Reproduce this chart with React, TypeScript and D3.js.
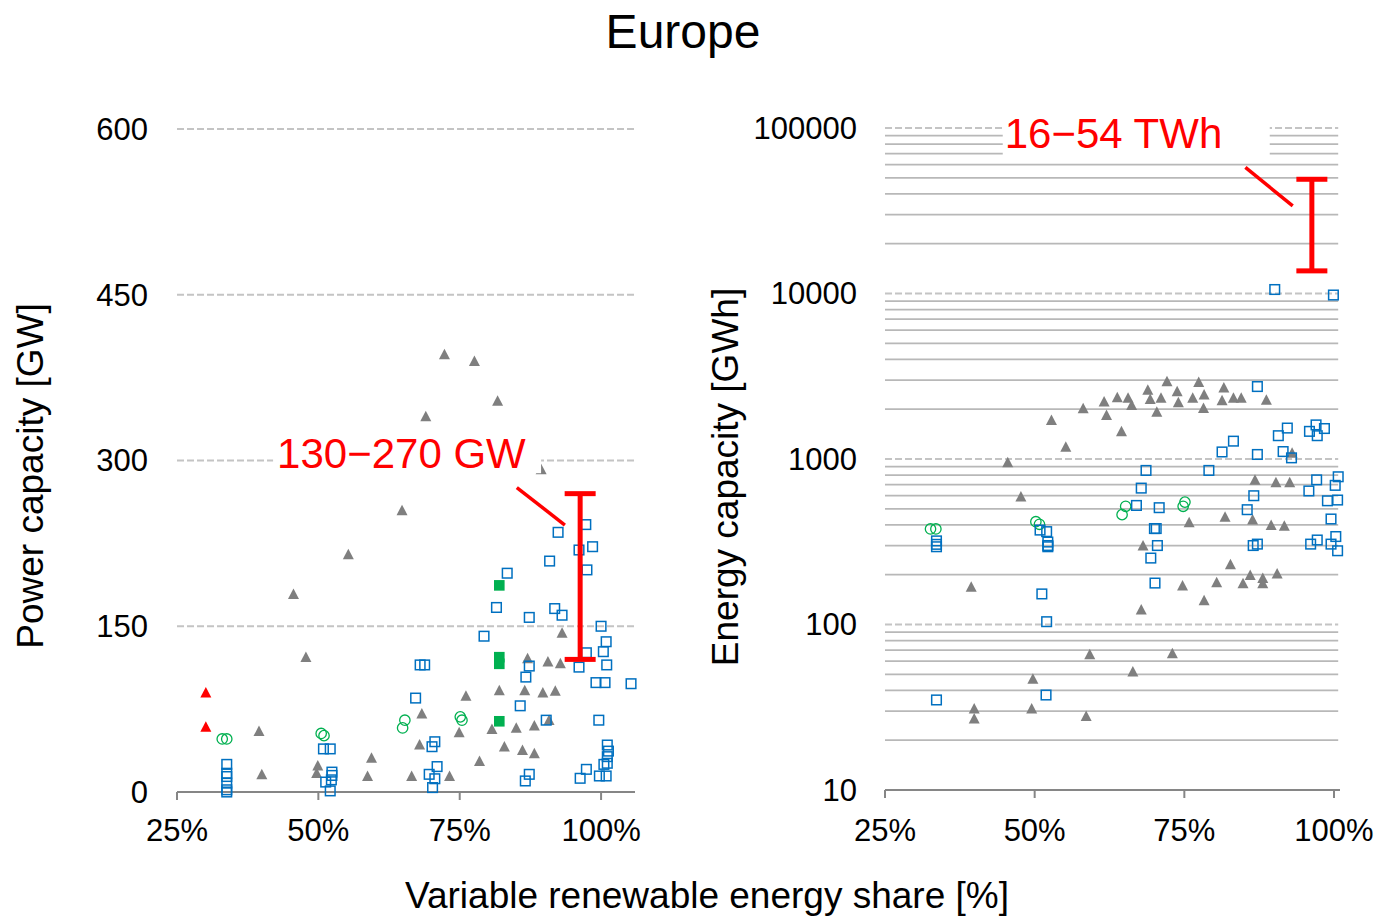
import * as d3 from "d3";

type Pt = [number, number];

const shareTicks = [25, 50, 75, 100];
const powerTicks = [0, 150, 300, 450, 600];
const energyTicks = [10, 100, 1000, 10000, 100000];

// left panel: VRE share [%], power capacity [GW]
const powerTriangles: Pt[] = [
  [64.8, 255], [55.3, 215], [45.6, 179], [47.8, 122], [39.5, 55], [40.0, 16], [49.9, 24], [49.7, 17],
  [59.4, 31], [58.7, 14.5], [66.5, 14.5], [73.2, 14.5], [72.3, 396], [77.6, 390], [81.7, 354], [69.0, 340],
  [89.4, 292], [93.1, 144], [87.0, 121], [90.6, 118], [92.8, 116.5], [82.0, 92], [86.5, 92], [89.7, 90],
  [91.9, 91.5], [76.1, 87], [68.3, 71], [90.8, 65], [74.9, 54], [80.7, 57], [85.0, 58], [88.2, 60],
  [67.9, 43], [82.9, 41], [86.1, 38], [88.2, 35], [78.5, 28],
];
const powerRedTriangles: Pt[] = [[30.1, 90], [30.1, 59]];
const powerCircles: Pt[] = [
  [33.0, 48], [33.8, 48], [50.5, 53], [51.0, 51], [64.9, 58], [65.3, 65], [75.1, 68], [75.4, 65],
];
const powerFilled: Pt[] = [[82.0, 187], [82.0, 122], [82.0, 116], [82.0, 64]];
const powerSquares: Pt[] = [
  [33.8, 25], [33.8, 17], [33.8, 14], [33.8, 8], [33.8, 2], [33.8, 0],
  [50.9, 39], [52.1, 39], [52.4, 18], [52.4, 15], [52.3, 11], [51.3, 9], [52.1, 1],
  [92.4, 235], [97.3, 242], [96.1, 219], [98.5, 222], [97.5, 201], [90.9, 209], [83.4, 198], [81.5, 167],
  [91.8, 166], [93.1, 160], [87.3, 158], [100.0, 150], [79.3, 141], [100.9, 136], [100.4, 127], [97.4, 126],
  [96.1, 113], [101.0, 115], [68.0, 115], [68.8, 115], [87.3, 114], [86.7, 104], [99.1, 99], [100.7, 99],
  [105.3, 98], [67.2, 85], [85.7, 78], [90.3, 65], [99.6, 65], [70.6, 45.5], [70.1, 41], [101.1, 42.5],
  [101.3, 37], [101.1, 32], [71.0, 23], [69.6, 16], [70.6, 12], [70.2, 4], [87.3, 16], [86.6, 10],
  [97.4, 20.5], [96.3, 12.4], [99.7, 14.5], [100.9, 14.5], [100.5, 25], [101.1, 26],
];
const powerRange = [120, 270];

// right panel: VRE share [%], energy capacity [GWh]
const energyTriangles: Pt[] = [
  [52.8, 1720], [58.1, 2020], [61.6, 2220], [62.0, 1845], [63.8, 2360], [55.2, 1186], [45.5, 955], [47.7, 592],
  [39.4, 169], [59.2, 66], [49.7, 47], [49.5, 31], [39.9, 31], [39.9, 27], [58.6, 28],
  [65.6, 2345], [66.2, 2120], [64.5, 1470], [68.9, 2620], [69.3, 2305], [70.4, 1930], [71.1, 2345], [72.1, 2950],
  [73.8, 2560], [74.0, 2200], [76.4, 2345], [77.4, 2920], [78.3, 2450], [78.2, 2030], [81.6, 2700], [81.3, 2265],
  [83.2, 2345], [84.5, 2345], [88.7, 2280], [86.8, 748], [90.3, 722], [92.6, 722], [93.0, 1090], [75.8, 414],
  [81.8, 447], [86.4, 430], [89.5, 398], [91.7, 394], [68.1, 300], [82.7, 231], [80.4, 180], [74.7, 172],
  [86.0, 199], [84.8, 177], [88.1, 191], [88.1, 177], [90.5, 203], [78.3, 140], [67.8, 123], [73.0, 67], [66.4, 52],
];
const energyCircles: Pt[] = [
  [32.6, 378], [33.5, 378], [50.2, 418], [50.8, 403], [64.6, 461], [65.2, 518], [74.8, 518], [75.1, 549],
];
const energySquares: Pt[] = [
  [33.6, 320], [33.6, 305], [33.6, 295], [50.9, 372], [52.0, 364], [52.2, 315], [52.2, 300], [52.2, 295],
  [51.2, 153], [52.0, 104], [33.6, 35], [51.9, 37.5],
  [90.1, 10570], [99.9, 9790], [87.2, 2740], [90.7, 1383], [92.2, 1538], [95.9, 1469], [97.0, 1607], [97.2, 1383],
  [98.4, 1528], [81.3, 1103], [83.2, 1282], [87.2, 1065], [91.5, 1109], [92.9, 1016], [79.1, 853], [68.6, 853],
  [67.8, 667], [67.0, 524], [70.8, 508], [70.3, 380], [70.0, 380], [70.5, 300], [69.4, 252], [70.1, 178],
  [86.6, 600], [85.5, 494], [86.5, 300], [87.2, 306], [97.1, 748], [95.8, 641], [100.7, 781], [100.2, 693],
  [98.9, 559], [100.6, 565], [99.5, 434], [97.2, 324], [96.1, 306], [99.5, 306], [100.3, 340], [100.6, 279],
];
const energyRange = [13700, 49000];

const rangeShare = 96.3;
const powerLabel = "130\u2212270 GW";
const energyLabel = "16\u221254 TWh";

const FONT = "'Liberation Sans', Arial, sans-serif";
const GRAY = "#7f7f7f";
const BLUE = "#0070c0";
const GREEN = "#00b050";
const RED = "#ff0000";

// marker triangle, a bit taller than equilateral like the spreadsheet marker
const tri = "M0,-5.6L5.5,4.9L-5.5,4.9Z";

type Scale = (v: number) => number;

function Markers({ x, y, tris, redTris, circles, squares, filled }: {
  x: Scale; y: Scale; tris: Pt[]; redTris?: Pt[]; circles: Pt[]; squares: Pt[]; filled?: Pt[];
}) {
  return (
    <g>
      {tris.map((d, i) => <path key={"t" + i} d={tri} fill={GRAY} transform={`translate(${x(d[0])},${y(d[1])})`} />)}
      {(redTris || []).map((d, i) => <path key={"r" + i} d={tri} fill={RED} transform={`translate(${x(d[0])},${y(d[1])})`} />)}
      {circles.map((d, i) => <circle key={"c" + i} cx={x(d[0])} cy={y(d[1])} r={5.2} fill="none" stroke={GREEN} strokeWidth={1.3} />)}
      {squares.map((d, i) => <rect key={"s" + i} x={x(d[0]) - 4.8} y={y(d[1]) - 4.8} width={9.6} height={9.6} fill="none" stroke={BLUE} strokeWidth={1.5} />)}
      {(filled || []).map((d, i) => <rect key={"f" + i} x={x(d[0]) - 5.3} y={y(d[1]) - 5.3} width={10.6} height={10.6} fill={GREEN} />)}
    </g>
  );
}

function RangeBar({ x, y0, y1 }: { x: number; y0: number; y1: number }) {
  return (
    <g stroke={RED} strokeWidth={5}>
      <line x1={x} x2={x} y1={y0} y2={y1} />
      <line x1={x - 15.5} x2={x + 15.5} y1={y0} y2={y0} />
      <line x1={x - 15.5} x2={x + 15.5} y1={y1} y2={y1} />
    </g>
  );
}

export default function App() {
  const xP = d3.scaleLinear().domain([25, 106]).range([177, 635]);
  const yP = d3.scaleLinear().domain([0, 600]).range([792, 129]);
  const xE = d3.scaleLinear().domain([25, 101]).range([885, 1340]);
  const yE = d3.scaleLog().domain([10, 100000]).range([790, 128]);

  const minor = yE.ticks().filter((v) => !energyTicks.includes(v));

  const pLabelX = xP(42.7), pLabelY = yP(293);
  const eLabelX = xE(45.0), eLabelY = yE(75700);

  return (
    <svg width={1379} height={920} style={{ position: "absolute", left: 0, top: 0, background: "#fff" }} fontFamily={FONT}>
      <text x={683} y={48} textAnchor="middle" fontSize={48}>Europe</text>

      {/* left panel */}
      {powerTicks.filter((v) => v > 0).map((v) => (
        <line key={v} x1={xP(25)} x2={xP(106)} y1={yP(v)} y2={yP(v)} stroke="#c4c4c4" strokeWidth={2} strokeDasharray="7,3" />
      ))}
      <line x1={xP(25)} x2={xP(106)} y1={yP(0)} y2={yP(0)} stroke="#868686" strokeWidth={2} />
      {shareTicks.map((v) => (
        <g key={v}>
          <line x1={xP(v)} x2={xP(v)} y1={yP(0)} y2={yP(0) + 8} stroke="#868686" strokeWidth={2} />
          <text x={xP(v)} y={841} textAnchor="middle" fontSize={31}>{v}%</text>
        </g>
      ))}
      {powerTicks.map((v) => (
        <text key={v} x={148} y={yP(v)} dy="0.35em" textAnchor="end" fontSize={31}>{v}</text>
      ))}
      <text transform="translate(43,476) rotate(-90)" textAnchor="middle" fontSize={37}>Power capacity [GW]</text>

      <Markers x={xP} y={yP} tris={powerTriangles} redTris={powerRedTriangles} circles={powerCircles} squares={powerSquares} filled={powerFilled} />

      <rect x={pLabelX - 4} y={pLabelY - 40} width={268} height={45} fill="#fff" />
      <text x={pLabelX} y={pLabelY} fontSize={42} fill={RED}>{powerLabel}</text>
      <line x1={xP(85.1)} y1={yP(275.5)} x2={xP(93.6)} y2={yP(241.6)} stroke={RED} strokeWidth={3.5} />
      <RangeBar x={xP(rangeShare)} y0={yP(powerRange[1])} y1={yP(powerRange[0])} />

      {/* right panel */}
      {minor.map((v) => (
        <line key={v} x1={xE(25)} x2={xE(100.7)} y1={yE(v)} y2={yE(v)} stroke="#b8b8b8" strokeWidth={1.8} />
      ))}
      {energyTicks.filter((v) => v > 10).map((v) => (
        <line key={v} x1={xE(25)} x2={xE(100.7)} y1={yE(v)} y2={yE(v)} stroke="#c4c4c4" strokeWidth={2} strokeDasharray="7,3" />
      ))}
      <line x1={xE(25)} x2={xE(101)} y1={yE(10)} y2={yE(10)} stroke="#868686" strokeWidth={2} />
      {shareTicks.map((v) => (
        <g key={v}>
          <line x1={xE(v)} x2={xE(v)} y1={yE(10)} y2={yE(10) + 8} stroke="#868686" strokeWidth={2} />
          <text x={xE(v)} y={841} textAnchor="middle" fontSize={31}>{v}%</text>
        </g>
      ))}
      {energyTicks.map((v) => (
        <text key={v} x={857} y={yE(v)} dy="0.35em" textAnchor="end" fontSize={31}>{v}</text>
      ))}
      <text transform="translate(738,477) rotate(-90)" textAnchor="middle" fontSize={37}>Energy capacity [GWh]</text>

      <Markers x={xE} y={yE} tris={energyTriangles} circles={energyCircles} squares={energySquares} />

      <rect x={eLabelX - 2} y={eLabelY - 38} width={267} height={48} fill="#fff" />
      <text x={eLabelX} y={eLabelY} fontSize={42} fill={RED}>{energyLabel}</text>
      <line x1={xE(85.2)} y1={yE(57800)} x2={xE(93.1)} y2={yE(33800)} stroke={RED} strokeWidth={3.5} />
      <RangeBar x={xE(rangeShare)} y0={yE(energyRange[1])} y1={yE(energyRange[0])} />

      <text x={707} y={908} textAnchor="middle" fontSize={37}>Variable renewable energy share [%]</text>
    </svg>
  );
}
